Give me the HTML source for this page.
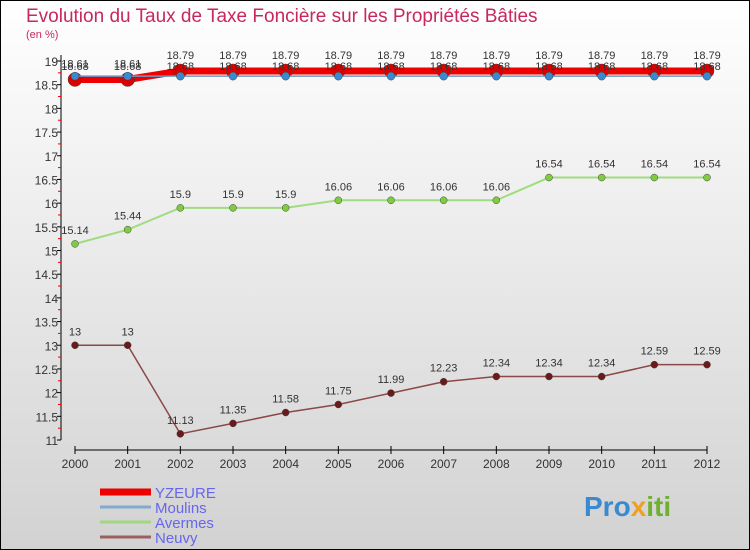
<!DOCTYPE html>
<html><head><meta charset="utf-8"><style>
body{margin:0}
svg{display:block;font-family:"Liberation Sans",sans-serif}
</style></head><body>
<svg id="c" width="750" height="550" viewBox="0 0 750 550" xmlns="http://www.w3.org/2000/svg">
<defs><linearGradient id="bg" x1="0" y1="0" x2="0" y2="1"><stop offset="0" stop-color="#ffffff"/><stop offset="1" stop-color="#d2d2d2"/></linearGradient></defs>
<rect x="0.5" y="0.5" width="749" height="549" fill="url(#bg)" stroke="#000"/>
<text x="26" y="22" font-size="19" fill="#c8285a">Evolution du Taux de Taxe Foncière sur les Propriétés Bâties</text>
<text x="26" y="38" font-size="11" fill="#c8285a">(en %)</text>
<g id="axes"></g><g id="series"></g><g id="legend"></g>
<text x="584" y="516" font-size="28" font-weight="bold" fill="#3a8ad0">Pro<tspan fill="#f0a020">x</tspan><tspan fill="#70b030">iti</tspan></text>
</svg>
<script>
const years=[2000,2001,2002,2003,2004,2005,2006,2007,2008,2009,2010,2011,2012];
const yTicks=[11,11.5,12,12.5,13,13.5,14,14.5,15,15.5,16,16.5,17,17.5,18,18.5,19];
const yzeure=[18.61,18.61,18.79,18.79,18.79,18.79,18.79,18.79,18.79,18.79,18.79,18.79,18.79];
const moulins=[18.68,18.68,18.68,18.68,18.68,18.68,18.68,18.68,18.68,18.68,18.68,18.68,18.68];
const avermes=[15.14,15.44,15.9,15.9,15.9,16.06,16.06,16.06,16.06,16.54,16.54,16.54,16.54];
const neuvy=[13,13,11.13,11.35,11.58,11.75,11.99,12.23,12.34,12.34,12.34,12.59,12.59];
const NS="http://www.w3.org/2000/svg";
const X=i=>75+i*(707-75)/(years.length-1);
const Y=v=>440-(v-11)*(440-61)/8;
function el(t,a,p){const e=document.createElementNS(NS,t);for(const k in a)e.setAttribute(k,a[k]);p.appendChild(e);return e;}
const ax=document.getElementById('axes');
let l=el('line',{x1:61,y1:55,x2:61,y2:440,stroke:'#000'},ax);


yTicks.forEach((v,i)=>{
 el('line',{x1:57,y1:Y(v),x2:61,y2:Y(v),stroke:'#000'},ax);
 if(i<yTicks.length-1){const m=el('line',{x1:58,y1:Y(v+0.25),x2:61,y2:Y(v+0.25),stroke:'#e00'},ax);}
 const t=el('text',{x:58,y:Y(v)+5,'font-size':12,'text-anchor':'end',fill:'#333'},ax);
 
 
 t.textContent=v;
});
l=el('line',{x1:75,y1:450,x2:707,y2:450,stroke:'#000'},ax);


years.forEach((y,i)=>{
 el('line',{x1:X(i),y1:446,x2:X(i),y2:454,stroke:'#000'},ax);
 const t=el('text',{x:X(i),y:468,'font-size':12,'text-anchor':'middle',fill:'#333'},ax);
 
 
 t.textContent=y;
});
const sg=document.getElementById('series');
function series(name,data,color,w,r,fill,labelDy){
 const g=el('g',{},sg);
 
 
 const p=el('polyline',{points:data.map((v,i)=>X(i)+','+Y(v)).join(' '),fill:'none',stroke:color,'stroke-width':w},g);
 
 
 data.forEach((v,i)=>{
  const c=el('circle',{cx:X(i),cy:Y(v),r:r,fill:fill,stroke:'#444','stroke-width':0.5},g);
  
  
  const t=el('text',{x:X(i),y:Y(v)+labelDy,'font-size':11,'text-anchor':'middle',fill:'#333'},g);
  
  
  t.textContent=v;
 });
}
series('neuvy',neuvy,'#8a4848',1.5,3.5,'#6a1a1a',-10);
series('avermes',avermes,'#a0dc80',2,3.5,'#80cc40',-10);
series('yzeure',yzeure,'#ee0000',7,7,'#dd0000',-12);
series('moulins',moulins,'#6a9ac8',1.5,4,'#3a8ad0',-6);
const lg=document.getElementById('legend');
[['YZEURE','#ee0000',7],['Moulins','#80aad0',3],['Avermes','#a0d880',3],['Neuvy','#9a6060',3]].forEach((d,i)=>{
 const y=492+i*15;
 const s=el('line',{x1:100,y1:y,x2:151,y2:y,stroke:d[1],'stroke-width':d[2]},lg);
 
 
 const t=el('text',{x:155,y:y+6,'font-size':15,fill:'#6666ee'},lg);
 
 
 t.textContent=d[0];
});
</script>
</body></html>
